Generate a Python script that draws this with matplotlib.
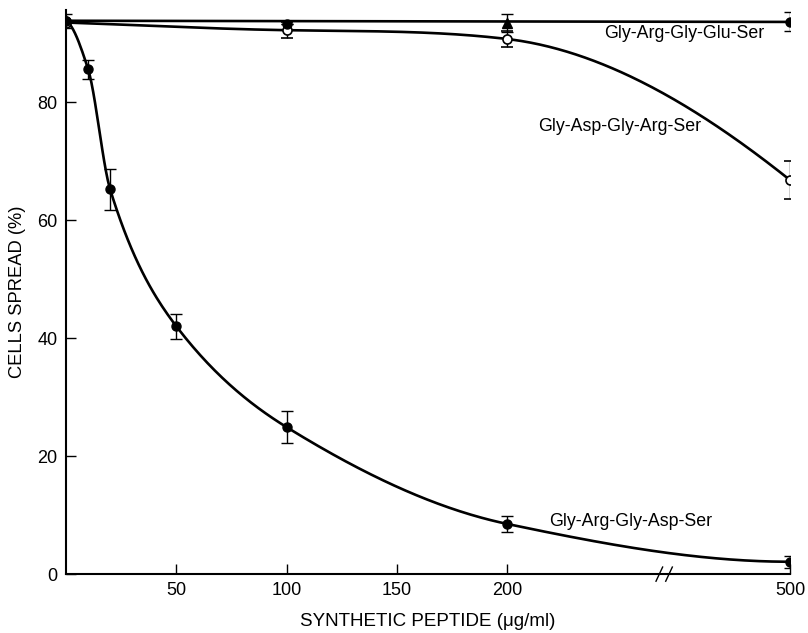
import numpy as np
import matplotlib.pyplot as plt

plt.rcParams['font.family'] = ['Liberation Sans', 'DejaVu Sans']

# concentrations (ug/ml)
rgd_conc = [0, 10, 20, 50, 100, 200, 500]
rgd_vals = [93.8, 85.6, 65.2, 42.0, 24.9, 8.5, 2.1]
rgd_err = [1.2, 1.6, 3.4, 2.1, 2.7, 1.4, 1.0]

dgr_conc = [0, 100, 200, 500]
dgr_vals = [93.5, 92.2, 90.7, 66.8]
dgr_err = [0.0, 1.4, 1.3, 3.2]

rge_conc = [0, 100, 200, 500]
rge_vals = [93.8, 93.2, 93.4, 93.6]
rge_err = [0.0, 0.0, 1.5, 1.6]
rge_markers = ['o', 'o', '^', 'o']

xtick_vals = [50, 100, 150, 200, 500]
ytick_vals = [0, 20, 40, 60, 80]


def xpos(c):
    # broken axis: 500 is drawn at about 328 linear units
    c = np.asarray(c, dtype=float)
    return np.where(c <= 250, c, 250 + (c - 250) * 0.312)


def hermite(x, y, m, xs):
    x = np.asarray(x, float)
    y = np.asarray(y, float)
    h = np.diff(x)
    n = len(x)
    out = np.empty_like(xs)
    for i, xv in enumerate(xs):
        k = min(max(np.searchsorted(x, xv) - 1, 0), n - 2)
        t = (xv - x[k]) / h[k]
        h00 = 2 * t**3 - 3 * t**2 + 1
        h10 = t**3 - 2 * t**2 + t
        h01 = -2 * t**3 + 3 * t**2
        h11 = t**3 - t**2
        out[i] = h00 * y[k] + h10 * h[k] * m[k] + h01 * y[k + 1] + h11 * h[k] * m[k + 1]
    return out


def pchip_slopes(x, y):
    x = np.asarray(x, float)
    y = np.asarray(y, float)
    h = np.diff(x)
    d = np.diff(y) / h
    n = len(x)
    m = np.zeros(n)
    for k in range(1, n - 1):
        if d[k - 1] * d[k] > 0:
            w1 = 2 * h[k] + h[k - 1]
            w2 = h[k] + 2 * h[k - 1]
            m[k] = (w1 + w2) / (w1 / d[k - 1] + w2 / d[k])
    m[0] = ((2 * h[0] + h[1]) * d[0] - h[0] * d[1]) / (h[0] + h[1])
    if np.sign(m[0]) != np.sign(d[0]):
        m[0] = 0
    m[-1] = ((2 * h[-1] + h[-2]) * d[-1] - h[-1] * d[-2]) / (h[-1] + h[-2])
    if np.sign(m[-1]) != np.sign(d[-1]):
        m[-1] = 0
    return m


def fc_slopes(x, y):
    # mean of neighbouring secants, limited so the curve stays monotone
    x = np.asarray(x, float)
    y = np.asarray(y, float)
    d = np.diff(y) / np.diff(x)
    m = np.concatenate([[d[0]], (d[:-1] + d[1:]) / 2, [d[-1] * 1.6]])
    for k in range(len(d)):
        a, b = m[k] / d[k], m[k + 1] / d[k]
        r = np.hypot(a, b)
        if r > 3:
            m[k] = 3 * a / r * d[k]
            m[k + 1] = 3 * b / r * d[k]
    return m


fig = plt.figure(figsize=(8.08, 6.33), dpi=100)
ax = fig.add_axes([0.0817, 0.093, 0.896, 0.891])

eb = dict(color='black', ms=6.5, capsize=4, elinewidth=1, capthick=1)

# Gly-Arg-Gly-Asp-Ser
xr = xpos(rgd_conc)
xs = np.linspace(xr[0], xr[-1], 400)
ax.plot(xs, hermite(xr, rgd_vals, pchip_slopes(xr, rgd_vals), xs), color='black', lw=1.9)
ax.errorbar(xr, rgd_vals, yerr=rgd_err, fmt='o', **eb)

# Gly-Asp-Gly-Arg-Ser
xd = xpos(dgr_conc)
xs = np.linspace(xd[0], xd[-1], 400)
ax.plot(xs, hermite(xd, dgr_vals, fc_slopes(xd, dgr_vals), xs), color='black', lw=1.9)
ax.errorbar(xd, dgr_vals, yerr=dgr_err, fmt='o', mfc='white', mec='black', mew=1.2, **eb)

# Gly-Arg-Gly-Glu-Ser
xg = xpos(rge_conc)
ax.plot([xg[0], xg[-1]], [rge_vals[0], rge_vals[-1]], color='black', lw=1.9)
for xi, yi, ei, mk in zip(xg, rge_vals, rge_err, rge_markers):
    ax.errorbar([xi], [yi], yerr=[ei], fmt=mk, **eb)

ax.text(244, 91.7, 'Gly-Arg-Gly-Glu-Ser', fontsize=12.8, va='center')
ax.text(214, 75.9, 'Gly-Asp-Gly-Arg-Ser', fontsize=12.8, va='center')
ax.text(219, 9.0, 'Gly-Arg-Gly-Asp-Ser', fontsize=12.8, va='center')

ax.set_xlim(0, float(xpos(500)))
ax.set_ylim(0, 95.6)
ax.spines['top'].set_visible(False)
ax.spines['right'].set_visible(False)
for s in ['left', 'bottom']:
    ax.spines[s].set_linewidth(1.5)
ax.set_xticks(xpos(xtick_vals))
ax.set_xticklabels([str(v) for v in xtick_vals])
ax.set_yticks(ytick_vals)
ax.tick_params(direction='in', length=7, width=1, labelsize=13, pad=6)

# axis break marks
bx = 271
for dx in (-2.2, 2.2):
    ax.plot([bx + dx - 1.5, bx + dx + 1.5], [-1.2, 1.2], color='black', lw=1,
            clip_on=False)

ax.set_ylabel('CELLS SPREAD (%)', fontsize=13.2, labelpad=8)
ax.set_xlabel('SYNTHETIC PEPTIDE (\u03bcg/ml)', fontsize=13.5, labelpad=10)

fig.savefig('out.png', dpi=100)
